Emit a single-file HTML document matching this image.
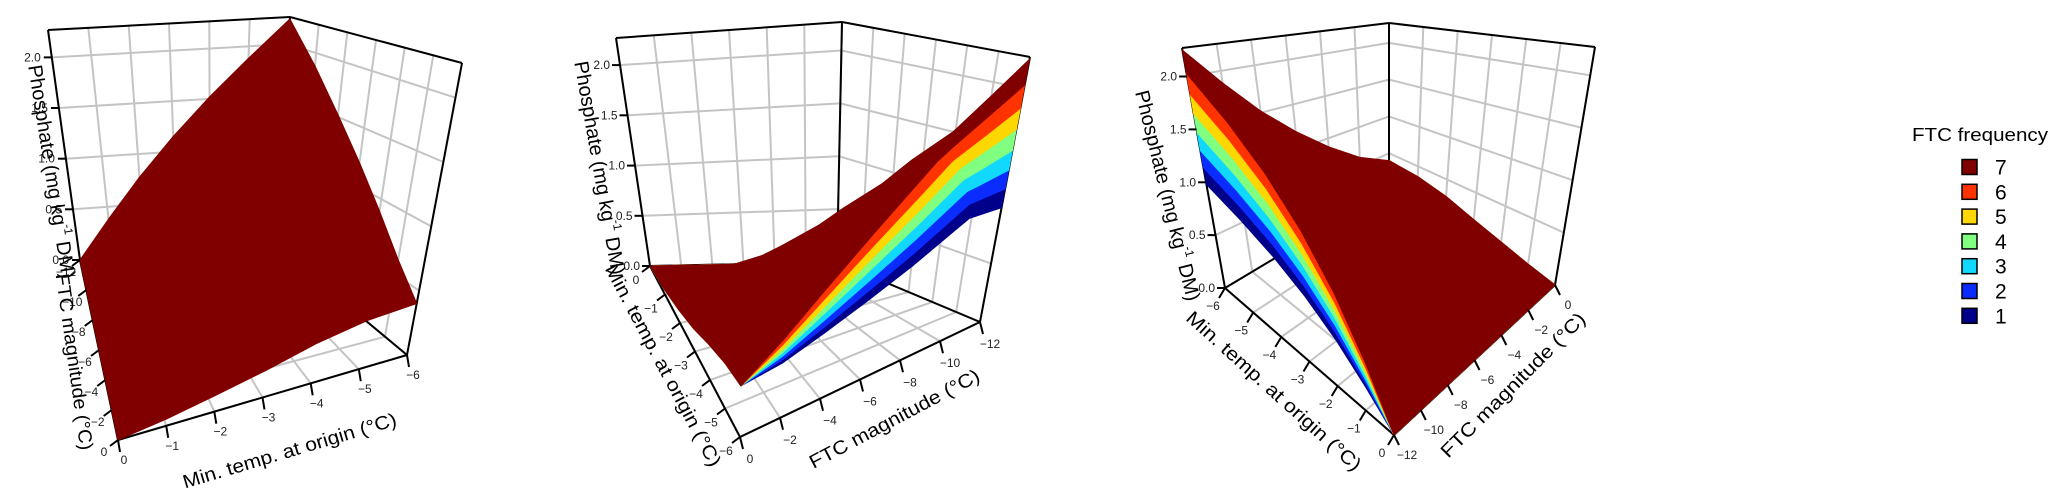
<!DOCTYPE html>
<html><head><meta charset="utf-8"><title>Phosphate 3D surfaces</title>
<style>html,body{margin:0;padding:0;background:#fff}svg{display:block}text{font-family:"Liberation Sans",Arial,sans-serif}</style>
</head><body>
<svg id="chart" width="2067" height="500" viewBox="0 0 2067 500" xmlns="http://www.w3.org/2000/svg">
<g id="panels"></g>
<g id="legend">
  <text x="1912" y="141" font-size="18" textLength="136" lengthAdjust="spacingAndGlyphs" fill="#000">FTC frequency</text>
</g>
</svg>
<script>
// ---- data ----
const mtTicks = [0, -1, -2, -3, -4, -5, -6];
const ftcTicks = [0, -2, -4, -6, -8, -10, -12];
const zTicks = [0, 0.5, 1.0, 1.5, 2.0];
const zTickLabels = ['0.0', '0.5', '1.0', '1.5', '2.0'];
const freqLabels = ['1', '2', '3', '4', '5', '6', '7'];
const seriesColors = ['#00008b', '#0a2cff', '#10d8ff', '#80ff80', '#ffd700', '#ff3300', '#800000'];
// phosphate at the (min temp -6, FTC -12) corner for each FTC frequency
const seriesPeak = [1.14, 1.30, 1.47, 1.65, 1.83, 2.03, 2.25];
// grid for FTC frequency 7: rows = min temp 0..-6, cols = FTC magnitude 0..-12 (step 2)
const gridMt = [0, -1, -2, -3, -4, -5, -6];
const gridFtc = [0, -2, -4, -6, -8, -10, -12];
const gridZ7 = [
  [0.00, 0.00, 0.00, 0.00, 0.00, 0.00, 0.00],
  [0.05, 0.13, 0.20, 0.26, 0.32, 0.36, 0.38],
  [0.12, 0.26, 0.40, 0.52, 0.64, 0.72, 0.77],
  [0.20, 0.38, 0.57, 0.75, 0.92, 1.06, 1.15],
  [0.30, 0.50, 0.72, 0.94, 1.16, 1.36, 1.52],
  [0.37, 0.57, 0.82, 1.08, 1.34, 1.60, 1.88],
  [0.40, 0.62, 0.90, 1.20, 1.52, 1.88, 2.25]
];
const Z_MAX = 2.27;

// ---- panel geometry (projected box corners, key = a b c) ----
const panels = [
  { name: 'panel-1', front: [0, 0], shown: [6],
    C: { '000': [118, 440], '100': [407, 355], '010': [80, 260], '110': [275, 245],
         '001': [138, 120], '101': [462, 63], '011': [48, 30], '111': [290, 17] },
    axes: [
      { kind: 'z', fix: [0, 1], tick: [-8, 0], lab: [-11, 4], anchor: 'end' },
      { kind: 'ftc', fix: [0, 0], tick: [-8, 6], lab: [-14, 16], anchor: 'middle' },
      { kind: 'mt', fix: [0, 0], tick: [2, 12], lab: [6, 24], anchor: 'middle' }
    ],
    titles: [
      { t: 'phos', x: 50, y: 172, r: 81, s: 20 },
      { t: 'FTC magnitude (°C)', x: 73, y: 362, r: 82, s: 19, len: 178 },
      { t: 'Min. temp. at origin (°C)', x: 290, y: 452, r: -16.6, s: 19, len: 222 }
    ] },
  { name: 'panel-2', front: [1, 0], shown: [0, 1, 2, 3, 4, 5, 6],
    C: { '000': [650, 266], '100': [740, 437], '110': [980, 322], '010': [837, 262],
         '001': [616, 38], '011': [842, 22], '111': [1030, 57], '101': [745, 147] },
    axes: [
      { kind: 'z', fix: [0, 0], tick: [-8, 0], lab: [-10, 4], anchor: 'end' },
      { kind: 'mt', fix: [0, 0], tick: [-8, 6], lab: [-14, 18], anchor: 'middle' },
      { kind: 'ftc', fix: [1, 0], tick: [3, 12], lab: [10, 26], anchor: 'middle' }
    ],
    titles: [
      { t: 'phos', x: 598, y: 168, r: 80, s: 20 },
      { t: 'Min. temp. at origin (°C)', x: 662, y: 366, r: 62, s: 19, len: 226 },
      { t: 'FTC magnitude (°C)', x: 895, y: 420, r: -28, s: 19, len: 190 }
    ] },
  { name: 'panel-3', front: [0, 1], shown: [0, 1, 2, 3, 4, 5, 6],
    C: { '010': [1394, 435], '110': [1225, 288], '000': [1555, 285], '100': [1389, 190],
         '111': [1182, 48], '001': [1595, 47], '101': [1389, 23], '011': [1400, 105] },
    axes: [
      { kind: 'z', fix: [1, 1], tick: [-8, 0], lab: [-10, 4], anchor: 'end' },
      { kind: 'mt', fix: [1, 0], tick: [-6, 10], lab: [-12, 22], anchor: 'middle' },
      { kind: 'ftc', fix: [0, 0], tick: [5, 10], lab: [13, 24], anchor: 'middle' }
    ],
    titles: [
      { t: 'phos', x: 1166, y: 196, r: 76, s: 20 },
      { t: 'Min. temp. at origin (°C)', x: 1273, y: 392, r: 42, s: 19, len: 228 },
      { t: 'FTC magnitude (°C)', x: 1514, y: 386, r: -45, s: 19, len: 196 }
    ] }
];

// ---- axis functions ----
const aOf = mt => mt / -6;
const bOf = ftc => ftc / -12;
const cOf = z => z / Z_MAX;
function lerp(p, q, t) { return [p[0] + (q[0] - p[0]) * t, p[1] + (q[1] - p[1]) * t]; }
function proj(P, a, b, c) {
  const C = P.C;
  const f0 = lerp(lerp(C['000'], C['100'], a), lerp(C['010'], C['110'], a), b);
  const f1 = lerp(lerp(C['001'], C['101'], a), lerp(C['011'], C['111'], a), b);
  return lerp(f0, f1, c);
}
const NS = 'http://www.w3.org/2000/svg';
function mk(tag, attrs, parent) {
  const e = document.createElementNS(NS, tag);
  for (const k in attrs) e.setAttribute(k, attrs[k]);
  parent.appendChild(e);
  return e;
}
function line(g, p, q, col, w) {
  return mk('line', { x1: p[0].toFixed(1), y1: p[1].toFixed(1), x2: q[0].toFixed(1), y2: q[1].toFixed(1), stroke: col, 'stroke-width': w }, g);
}
function ptsStr(pts) { return pts.map(p => p[0].toFixed(1) + ',' + p[1].toFixed(1)).join(' '); }
function fmt(v) { return v === 0 ? '0' : '\u2212' + Math.abs(v); }

const top7 = gridZ7[6][6];
function zSeries(k, i, j) {
  return gridZ7[i][j] - (top7 - seriesPeak[k]) * aOf(gridMt[i]) * bOf(gridFtc[j]);
}

const root = document.getElementById('panels');
panels.forEach(P => {
  const g = mk('g', {}, root);
  
  
  const grid = mk('g', {}, g);
  
  
  const GR = '#c4c4c4';
  mtTicks.forEach(m => line(grid, proj(P, aOf(m), 0, 0), proj(P, aOf(m), 1, 0), GR, 2));
  ftcTicks.forEach(f => line(grid, proj(P, 0, bOf(f), 0), proj(P, 1, bOf(f), 0), GR, 2));
  const wa = 1 - P.front[0], wb = 1 - P.front[1];
  ftcTicks.forEach(f => line(grid, proj(P, wa, bOf(f), 0), proj(P, wa, bOf(f), 1), GR, 2));
  zTicks.forEach(z => line(grid, proj(P, wa, 0, cOf(z)), proj(P, wa, 1, cOf(z)), GR, 2));
  mtTicks.forEach(m => line(grid, proj(P, aOf(m), wb, 0), proj(P, aOf(m), wb, 1), GR, 2));
  zTicks.forEach(z => line(grid, proj(P, 0, wb, cOf(z)), proj(P, 1, wb, cOf(z)), GR, 2));
  const box = mk('g', {}, g);
  
  
  const corners = [];
  for (let a = 0; a < 2; a++) for (let b = 0; b < 2; b++) for (let c = 0; c < 2; c++) corners.push([a, b, c]);
  corners.forEach(p => corners.forEach(q => {
    const d = Math.abs(p[0] - q[0]) + Math.abs(p[1] - q[1]) + Math.abs(p[2] - q[2]);
    if (d !== 1 || p.join() > q.join()) return;
    const isFT = v => v[0] === P.front[0] && v[1] === P.front[1] && v[2] === 1;
    if (isFT(p) || isFT(q)) return;
    line(box, proj(P, p[0], p[1], p[2]), proj(P, q[0], q[1], q[2]), '#000', 2);
  }));
  const surf = mk('g', {}, g);
  
  
  const nI = gridMt.length, jL = gridFtc.length - 1;
  P.shown.forEach((k, si) => {
    const sg = mk('g', {}, surf);
    
    
    if (P.shown.length > 1) {
      const upper = [], lower = [];
      for (let i = 0; i < nI; i++) {
        const zk = zSeries(k, i, jL);
        const zl = k > 0 ? zSeries(k - 1, i, jL) : zk - (zSeries(1, i, jL) - zk);
        upper.push(proj(P, aOf(gridMt[i]), 1, cOf(zk)));
        lower.push(proj(P, aOf(gridMt[i]), 1, cOf(zl)));
      }
      const rib = mk('polygon', { points: ptsStr(upper.concat(lower.reverse())), fill: seriesColors[k], stroke: seriesColors[k], 'stroke-width': 1 }, sg);
      
      
    }
    for (let i = 0; i < nI - 1; i++) for (let j = 0; j < jL; j++) {
      const pts = [[i, j], [i + 1, j], [i + 1, j + 1], [i, j + 1]].map(([ii, jj]) =>
        proj(P, aOf(gridMt[ii]), bOf(gridFtc[jj]), cOf(zSeries(k, ii, jj))));
      const poly = mk('polygon', { points: ptsStr(pts), fill: seriesColors[k], stroke: seriesColors[k], 'stroke-width': 1, 'stroke-linejoin': 'round' }, sg);
      
      
    }
  });
  P.axes.forEach(ax => {
    const ag = mk('g', {}, g);
    
    
    const vals = ax.kind === 'z' ? zTicks : ax.kind === 'mt' ? mtTicks : ftcTicks;
    vals.forEach((v, idx) => {
      let p;
      if (ax.kind === 'z') p = proj(P, ax.fix[0], ax.fix[1], cOf(v));
      else if (ax.kind === 'mt') p = proj(P, aOf(v), ax.fix[0], 0);
      else p = proj(P, ax.fix[0], bOf(v), 0);
      line(ag, p, [p[0] + ax.tick[0], p[1] + ax.tick[1]], '#000', 2);
      const t = mk('text', { x: (p[0] + ax.lab[0]).toFixed(1), y: (p[1] + ax.lab[1]).toFixed(1), 'font-size': 12, 'text-anchor': ax.anchor, fill: '#222' }, ag);
      
      
      t.textContent = ax.kind === 'z' ? zTickLabels[idx] : fmt(v);
    });
  });
  P.titles.forEach(T => {
    const t = mk('text', { transform: `translate(${T.x},${T.y}) rotate(${T.r})`, 'font-size': T.s, 'text-anchor': 'middle', 'dominant-baseline': 'middle', fill: '#000' }, g);
    if (T.t === 'phos') {
      
      
      mk('tspan', {}, t).textContent = 'Phosphate (mg kg';
      const sup = mk('tspan', { 'font-size': 12, dy: -8 }, t); sup.textContent = '-1';
      mk('tspan', { dy: 8 }, t).textContent = ' DM)';
    } else {
      
      
      t.setAttribute('textLength', T.len);
      t.setAttribute('lengthAdjust', 'spacingAndGlyphs');
      t.textContent = T.t;
    }
  });
});

const lg = document.getElementById('legend');
for (let k = 6; k >= 0; k--) {
  const row = 6 - k;
  const y = 167 + row * 24.8;
  const e = mk('g', {}, lg);
  
  
  mk('rect', { x: 1962, y: (y - 7.5).toFixed(1), width: 15, height: 15, fill: seriesColors[k], stroke: '#000', 'stroke-width': 1.5 }, e);
  const t = mk('text', { x: 1995, y: (y + 7.5).toFixed(1), 'font-size': 21, fill: '#000' }, e);
  t.textContent = freqLabels[k];
}
</script>
</body></html>
